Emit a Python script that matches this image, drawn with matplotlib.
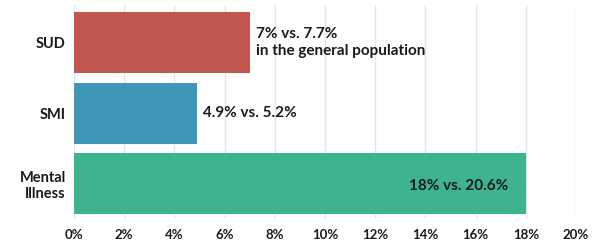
import matplotlib.pyplot as plt
import numpy as np

categories = ["SUD", "SMI", "Mental\nIllness"]
values = [7.0, 4.9, 18.0]
notes = ["7% vs. 7.7%\nin the general population", "4.9% vs. 5.2%", "18% vs. 20.6%"]
colors = ["#c1574f", "#4096b6", "#3db48f"]
ticks = [0, 2, 4, 6, 8, 10, 12, 14, 16, 18, 20]

plt.rcParams['font.family'] = ['Lato', 'DejaVu Sans']

fig = plt.figure(figsize=(6.02, 2.41), dpi=100)
ax = fig.add_axes([74/602, 1 - 219/241, 502/602, 214/241])

y = np.arange(len(categories))
ax.barh(y, values, height=0.865, color=colors, zorder=2)

for i, (v, n) in enumerate(zip(values, notes)):
    if i == 2:
        ax.text(v - 0.68, i + 0.03, n, ha='right', va='center', fontsize=11,
                fontweight='bold', color='#1a1a1a')
    else:
        ax.text(v + 0.25, i, n, ha='left', va='center', fontsize=11,
                fontweight='bold', color='#1a1a1a', linespacing=1.3)

ax.set_xlim(0, 20)
ax.set_ylim(2.5, -0.53)
ax.set_yticks(y)
ax.set_yticklabels(categories, fontsize=10.5, fontweight='bold', color='#1a1a1a')
ax.set_xticks(ticks)
ax.set_xticklabels([f"{t}%" for t in ticks], fontsize=9.5, fontweight='bold', color='#1a1a1a')
ax.tick_params(axis='y', length=0, pad=6)
ax.tick_params(axis='x', length=0, pad=7)
ax.grid(axis='x', color='#e6e6e6', linewidth=1, zorder=0)
for s in ax.spines.values():
    s.set_visible(False)

fig.savefig("out.png", dpi=100)
